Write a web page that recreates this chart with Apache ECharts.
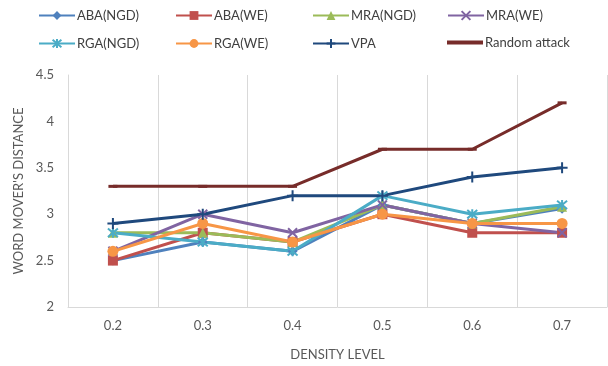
<!DOCTYPE html>
<html><head><meta charset="utf-8">
<script src="https://cdn.jsdelivr.net/npm/echarts@6/dist/echarts.min.js"></script>
<style>html,body{margin:0;padding:0;background:#fff}#c{width:608px;height:366px}</style>
</head><body><div id="c"></div>
<script>
const categories = ['0.2','0.3','0.4','0.5','0.6','0.7'];
const seriesNames = ['ABA(NGD)','ABA(WE)','MRA(NGD)','MRA(WE)','RGA(NGD)','RGA(WE)','VPA','Random attack'];
const abaNgd = [2.5, 2.7, 2.6, 3.1, 2.9, 3.06];
const abaWe = [2.5, 2.8, 2.7, 3.0, 2.8, 2.8];
const mraNgd = [2.8, 2.8, 2.7, 3.1, 2.9, 3.08];
const mraWe = [2.6, 3.0, 2.8, 3.1, 2.9, 2.8];
const rgaNgd = [2.8, 2.7, 2.6, 3.2, 3.0, 3.1];
const rgaWe = [2.6, 2.9, 2.7, 3.0, 2.9, 2.9];
const vpa = [2.9, 3.0, 3.2, 3.2, 3.4, 3.5];
const randomAttack = [3.3, 3.3, 3.3, 3.7, 3.7, 4.2];
const yTicks = {min: 2, max: 4.5, interval: 0.5};

const colors = ['#4F81BD','#C0504D','#9BBB59','#8064A2','#4BACC6','#F79646','#1F497D','#772C2A'];
const values = [abaNgd, abaWe, mraNgd, mraWe, rgaNgd, rgaWe, vpa, randomAttack];
const symbols = ['diamond','rect','triangle','path://M0,0L10,10M10,0L0,10','path://M0,0L10,10M10,0L0,10M5,-1L5,11','circle','path://M5,0L5,10M0,5L10,5','rect'];
const sizes = [10, 10, 10, 9, 10, 11, 11, [9,3]];
const stroked = [false,false,false,true,true,false,true,false];

const font = 'Lato, "Open Sans", sans-serif';
const series = seriesNames.map((n,i)=>({
  name: n, type: 'line', data: values[i],
  symbol: symbols[i], symbolSize: sizes[i], showSymbol: true,
  lineStyle: {width: 3, color: colors[i]},
  itemStyle: stroked[i] ? {color: colors[i], borderColor: colors[i], borderWidth: 2} : {color: colors[i]},
  emphasis: {disabled: true}, animation: false
}));

const colLeft = [38, 175, 312, 447];
const rowTop = [9, 37];
const legends = seriesNames.map((n,i)=>({
  left: colLeft[i%4], top: rowTop[Math.floor(i/4)],
  data: i===7 ? [{name:n, icon:'rect'}] : [n],
  itemWidth: 36, itemHeight: i===7 ? 4 : 11, itemGap: 0,
  textStyle: {fontFamily: font, fontSize: 13, color: '#404040', padding: [0,0,0,-3]},
  padding: 0, selectedMode: false
}));
legends[7].top = rowTop[1] - 1;

const chart = echarts.init(document.getElementById('c'), null, {renderer: 'canvas'});
chart.setOption({
  animation: false,
  color: colors,
  legend: legends,
  grid: {left: 68, right: 1, top: 75, bottom: 54, containLabel: false},
  xAxis: {
    type: 'category', data: categories, boundaryGap: true,
    name: 'DENSITY LEVEL', nameLocation: 'middle', nameGap: 41,
    nameTextStyle: {fontFamily: font, fontSize: 13, color: '#595959'},
    axisLine: {lineStyle: {color: '#D9D9D9', width: 1}},
    axisTick: {show: false},
    axisLabel: {fontFamily: font, fontSize: 13, color: '#595959', margin: 12},
    splitLine: {show: true, lineStyle: {color: '#D9D9D9', width: 1}}
  },
  yAxis: {
    type: 'value', min: yTicks.min, max: yTicks.max, interval: yTicks.interval,
    name: "WORD MOVER'S DISTANCE", nameLocation: 'middle', nameGap: 43,
    nameTextStyle: {fontFamily: font, fontSize: 13, color: '#595959'},
    axisLine: {show: true, lineStyle: {color: '#D9D9D9', width: 1}},
    axisTick: {show: false},
    splitLine: {show: false},
    axisLabel: {fontFamily: font, fontSize: 13, color: '#595959', margin: 14}
  },
  series: series
});
</script></body></html>
